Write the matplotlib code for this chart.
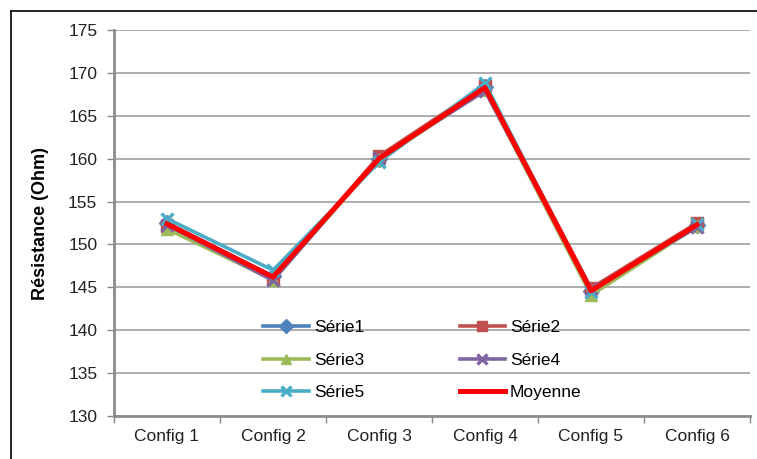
import numpy as np
import matplotlib
matplotlib.use('Agg')
from matplotlib import pyplot as plt
from matplotlib.lines import Line2D

# values (Ohm)
configs = ['Config 1', 'Config 2', 'Config 3', 'Config 4', 'Config 5', 'Config 6']
serie1 = [152.5, 146.3, 160.0, 168.4, 144.6, 152.3]
serie2 = [152.2, 146.0, 160.3, 168.5, 144.9, 152.5]
serie3 = [151.8, 145.9, 159.9, 168.0, 144.1, 152.1]
serie4 = [152.3, 145.8, 160.1, 167.9, 144.8, 152.0]
serie5 = [153.0, 147.0, 159.6, 168.8, 144.5, 152.4]
moyenne = [152.4, 146.2, 160.0, 168.3, 144.6, 152.3]

series_names = ['Série1', 'Série2', 'Série3', 'Série4', 'Série5']
series_colors = ['#4F81BD', '#C0504D', '#9BBB59', '#8064A2', '#4BACC6']
series_markers = ['D', 's', '^', 'x', 'x']

plt.rcParams['font.family'] = ['Liberation Sans', 'DejaVu Sans']

fig = plt.figure(figsize=(7.57, 4.59), dpi=100)
ax = fig.add_axes([114 / 757, 1 - 416 / 459, (750 - 114) / 757, (416 - 30) / 459])

# outer chart frame (left and top visible)
fig.add_artist(Line2D([11 / 757, 11 / 757], [0, 1 - 11 / 459], color='black', lw=1.2, transform=fig.transFigure))
fig.add_artist(Line2D([11 / 757, 1], [1 - 11 / 459, 1 - 11 / 459], color='black', lw=1.2, transform=fig.transFigure))

x = np.arange(len(configs)) + 0.5
all_series = [serie1, serie2, serie3, serie4, serie5]
handles = []
for vals, name, col, mk in zip(all_series, series_names, series_colors, series_markers):
    h, = ax.plot(x, vals, color=col, lw=2.6, marker=mk, markersize=8, markeredgewidth=2.4 if mk == 'x' else 1,
                 markeredgecolor=col, label=name, zorder=3)
    handles.append(h)
hm, = ax.plot(x, moyenne, color='#FF0000', lw=3.6, label='Moyenne', zorder=4)
handles.append(hm)

ax.set_xlim(0, len(configs))
ax.set_ylim(130, 175)
ax.set_yticks(np.arange(130, 176, 5))
ax.set_xticks(np.arange(len(configs) + 1))
ax.set_xticklabels([])
ax.set_xticks(x, minor=True)
ax.set_xticklabels(configs, minor=True, fontsize=12.5, color='#222222')
ax.tick_params(axis='x', which='minor', length=0, pad=9)
ax.tick_params(axis='x', which='major', length=5, width=1, color='#888888', direction='out')
ax.tick_params(axis='y', length=5, width=1, color='#888888', direction='out', labelsize=12.5,
               labelcolor='#222222', pad=7)

ax.grid(axis='y', color='#A0A0A0', lw=1.2)
ax.set_axisbelow(True)
for side in ['top', 'right']:
    ax.spines[side].set_visible(False)
ax.spines['left'].set_color('#8C8C8C')
ax.spines['left'].set_linewidth(2)
ax.spines['bottom'].set_color('#8C8C8C')
ax.spines['bottom'].set_linewidth(2)

ax.set_ylabel('Résistance (Ohm)', fontsize=13, fontweight='bold', labelpad=14)

# legend is filled row by row in the reference: reorder for column-major ncol=2
order = [0, 2, 4, 1, 3, 5]
ax.legend([handles[i] for i in order], [handles[i].get_label() for i in order],
          loc='lower center', bbox_to_anchor=(0.485, 0.0), ncol=2, frameon=False, fontsize=12.5,
          handlelength=2.6, columnspacing=5.5, labelspacing=1.0, handletextpad=0.3, markerscale=0.85)

plt.savefig('out.png', dpi=100)
